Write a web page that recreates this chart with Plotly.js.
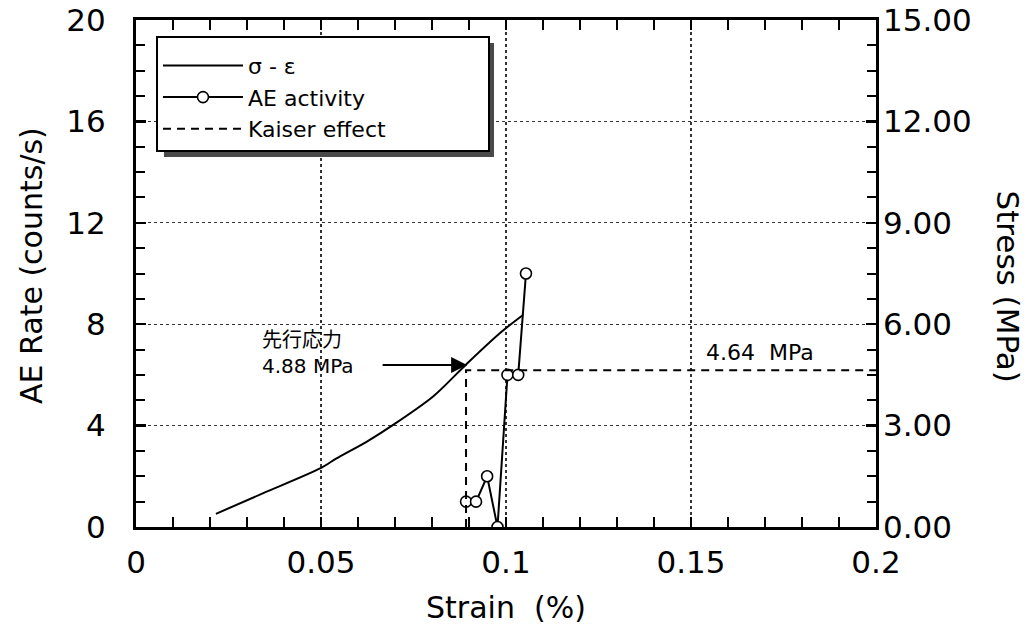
<!DOCTYPE html>
<html>
<head>
<meta charset="utf-8">
<script src="https://cdn.plot.ly/plotly-3.0.1.min.js"></script>
<style>html,body{margin:0;padding:0;background:#fff;}</style>
</head>
<body>
<div id="chart" style="width:1032px;height:639px;"></div>
<script>
// σ-ε curve (strain %, stress MPa)
const curveStrain = [0.0216, 0.0344, 0.0499, 0.0542, 0.0623, 0.0695, 0.0803, 0.0895, 0.0984, 0.1046];
const curveStress = [0.39, 1.00, 1.74, 2.03, 2.52, 3.02, 3.86, 4.84, 5.74, 6.27];
// AE activity (strain %, counts/s)
const aeStrain = [0.0892, 0.0919, 0.0949, 0.0977, 0.1004, 0.1033, 0.1054];
const aeRate = [1, 1, 2, 0, 6, 6, 10];
// Kaiser effect guide (strain %, stress MPa)
const kaiserStrain = [0.0892, 0.0892, 0.2];
const kaiserStress = [0, 4.64, 4.64];
// axis ticks
const xTickStep = 0.05, xMinorStep = 0.01;
const yTickStep = 4, yMinorStep = 1;
const y2Ticks = [0, 3, 6, 9, 12, 15];
const y2TickText = ['0.00', '3.00', '6.00', '9.00', '12.00', '15.00'];
const seriesNames = ['\u03c3 - \u03b5', 'AE activity', 'Kaiser effect'];

const FONT = 'DejaVu Sans, Noto Sans CJK JP, sans-serif';

const traces = [
  {x: curveStrain, y: curveStress, yaxis: 'y2', mode: 'lines', name: seriesNames[0],
   line: {color: '#000', width: 2, shape: 'spline', smoothing: 0.8}},
  {x: aeStrain, y: aeRate, yaxis: 'y', mode: 'lines+markers', name: seriesNames[1],
   line: {color: '#000', width: 2},
   marker: {symbol: 'circle', size: 11, color: '#fff', line: {color: '#000', width: 1.6}}},
  {x: kaiserStrain, y: kaiserStress, yaxis: 'y2', mode: 'lines', name: seriesNames[2],
   line: {color: '#000', width: 2, dash: '8px,6px'}}
];

const layout = {
  width: 1032, height: 639,
  margin: {l: 136, r: 156, t: 20, b: 112},
  paper_bgcolor: '#fff', plot_bgcolor: 'rgba(0,0,0,0)',
  font: {family: FONT, color: '#000', size: 20},
  showlegend: true,
  legend: {
    x: 0.027, y: 0.968, xanchor: 'left', yanchor: 'top',
    bgcolor: '#fff', bordercolor: '#000', borderwidth: 2,
    font: {family: FONT, size: 22, color: '#000'},
    itemwidth: 80, tracegroupgap: 0,
    title: {text: '\u00a0'.repeat(205), font: {family: FONT, size: 5}}
  },
  xaxis: {
    range: [0, 0.2], tickmode: 'linear', tick0: 0, dtick: xTickStep,
    showline: true, linecolor: '#000', linewidth: 3, mirror: 'allticks',
    ticks: 'inside', ticklen: 10, tickwidth: 2.5, tickcolor: '#000',
    minor: {tickmode: 'linear', dtick: xMinorStep, ticks: 'inside', ticklen: 9, tickwidth: 2, tickcolor: '#000', showgrid: false},
    showgrid: true, gridcolor: '#333', gridwidth: 1.2, griddash: 'dot',
    zeroline: false,
    tickfont: {family: FONT, size: 31},
    ticklabelstandoff: 6,
    title: {text: 'Strain\u00a0\u00a0(%)', font: {family: FONT, size: 30}, standoff: 18}
  },
  yaxis: {
    range: [0, 20], tickmode: 'linear', tick0: 0, dtick: yTickStep,
    showline: true, linecolor: '#000', linewidth: 3, mirror: 'allticks',
    ticks: 'inside', ticklen: 10, tickwidth: 2.5, tickcolor: '#000',
    minor: {tickmode: 'linear', dtick: yMinorStep, ticks: 'inside', ticklen: 9, tickwidth: 2, tickcolor: '#000', showgrid: false},
    showgrid: true, gridcolor: '#333', gridwidth: 1.2, griddash: 'dot',
    zeroline: false,
    tickfont: {family: FONT, size: 31},
    ticklabelstandoff: 21
  },
  yaxis2: {
    range: [0, 15], tickmode: 'array', tickvals: y2Ticks, ticktext: y2TickText,
    overlaying: 'y', side: 'right', anchor: 'x',
    showline: false, ticks: '', showgrid: false, zeroline: false,
    tickfont: {family: FONT, size: 31},
    ticklabelstandoff: 6
  },
  shapes: [
    {type: 'rect', xref: 'paper', yref: 'paper', x0: 0.0378, x1: 0.4838, y0: 0.7298, y1: 0.9546,
     fillcolor: '#4a4a4a', line: {width: 0}, layer: 'above'}
  ],
  annotations: [
    {xref: 'x', yref: 'y', x: 0.0335, y: 6.86, xanchor: 'left', yanchor: 'middle', align: 'left',
     text: '先行応力<br>4.88 MPa', showarrow: false, font: {family: FONT, size: 20}},
    {xref: 'x', yref: 'y2', x: 0.0895, y: 4.79, text: '', showarrow: true,
     ax: -86, ay: 0, arrowhead: 2, arrowsize: 1.6, arrowwidth: 2, arrowcolor: '#000', standoff: 0},
    {xref: 'x', yref: 'y', x: 0.1686, y: 6.9, xanchor: 'center', yanchor: 'middle',
     text: '4.64\u00a0\u00a0MPa', showarrow: false, font: {family: FONT, size: 22}},
    {xref: 'paper', yref: 'paper', x: -0.1405, y: 0.515, xanchor: 'center', yanchor: 'middle',
     text: 'AE Rate (counts/s)', textangle: -90, showarrow: false, font: {family: FONT, size: 30}},
    {xref: 'paper', yref: 'paper', x: 1.178, y: 0.475, xanchor: 'center', yanchor: 'middle',
     text: 'Stress (MPa)', textangle: 90, showarrow: false, font: {family: FONT, size: 31}}
  ]
};

Plotly.newPlot('chart', traces, layout, {displayModeBar: false, staticPlot: true});
</script>
</body>
</html>
